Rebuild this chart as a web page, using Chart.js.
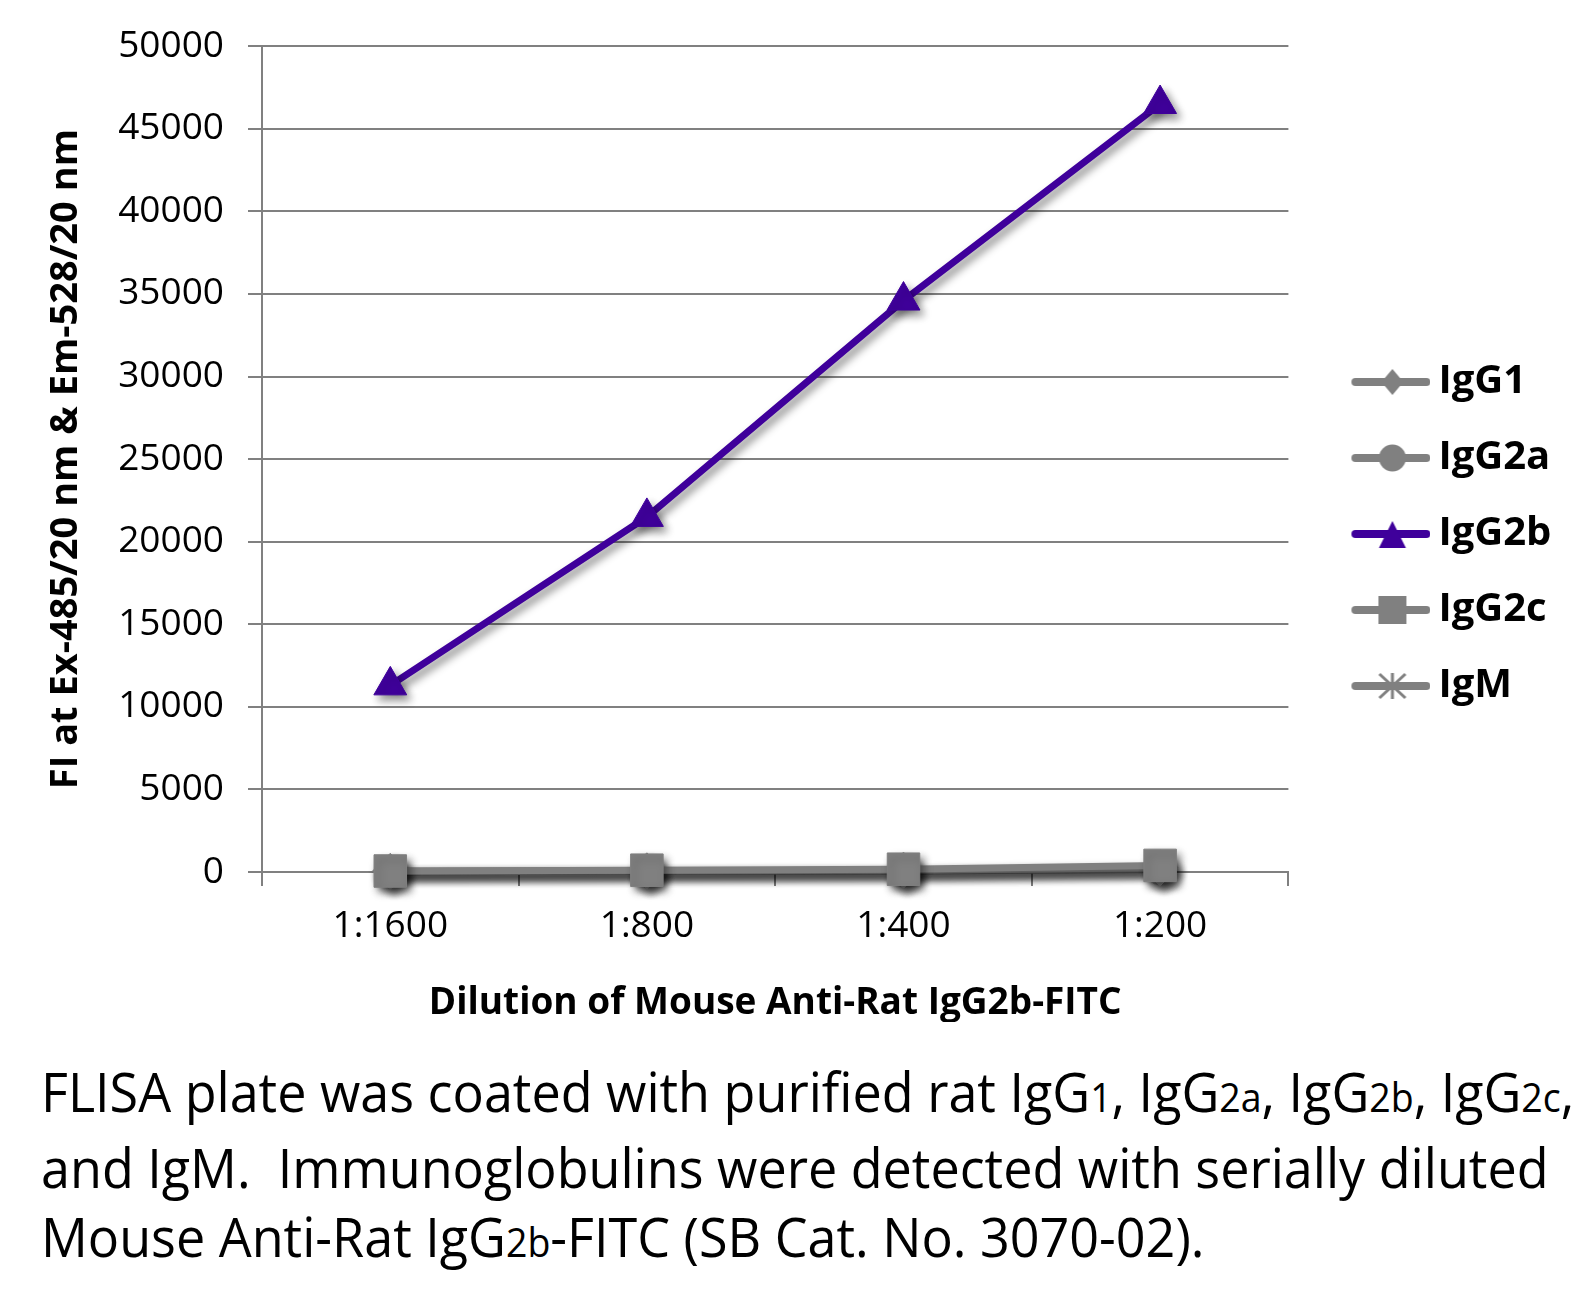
<!DOCTYPE html>
<html>
<head>
<meta charset="utf-8">
<script src="https://cdn.jsdelivr.net/npm/chart.js@4.4.0/dist/chart.umd.min.js"></script>
<style>
  body { margin: 0; background: #fff; }
  #wrap { position: relative; width: 1596px; height: 1306px; }
  #chart { position: absolute; left: 0; top: 0; }
  #caption {
    position: absolute; left: 41px; top: 1056px;
    font-family: 'Open Sans', sans-serif; font-size: 55px; line-height: 69px;
    white-space: nowrap; color: #000;
    transform: scaleX(0.947); transform-origin: left top;
  }
  #caption small { font-size: 0.72em; }
</style>
</head>
<body>
<div id="wrap">
  <canvas id="chart" width="1596" height="1022"></canvas>
  <div id="caption">FLISA plate was coated with purified rat IgG<small>1</small>, IgG<small>2a</small>, IgG<small>2b</small>, IgG<small>2c</small>,<br>and IgM.&nbsp; Immunoglobulins were detected with serially diluted<br>Mouse Anti-Rat IgG<small>2b</small>-FITC (SB Cat. No. 3070-02).</div>
</div>
<script>
const categories = ['1:1600', '1:800', '1:400', '1:200'];
const igg1 = [40, 70, 110, 250];
const igg2a = [30, 60, 90, 200];
const igg2b = [11300, 21500, 34600, 46500];
const igg2c = [60, 110, 170, 400];
const igm = [20, 40, 60, 150];
const yMin = 0, yMax = 50000, yStep = 5000;

const GRAY = '#808080';
const PURPLE = '#3f009b';
const FONT = "'Open Sans', sans-serif";

// legend icon: line with the marker on it
function legendIcon(color, marker) {
  const c = document.createElement('canvas');
  c.width = 118; c.height = 40;
  const g = c.getContext('2d');
  const cx = 80, cy = 20;
  g.strokeStyle = color; g.fillStyle = color;
  g.lineWidth = 8; g.lineCap = 'round';
  g.beginPath(); g.moveTo(43, cy); g.lineTo(114, cy); g.stroke();
  g.beginPath();
  if (marker === 'diamond') {
    g.moveTo(cx, cy - 13); g.lineTo(cx + 11, cy); g.lineTo(cx, cy + 13); g.lineTo(cx - 11, cy);
    g.closePath(); g.fill();
  } else if (marker === 'circle') {
    g.arc(cx, cy, 13.5, 0, Math.PI * 2); g.fill();
  } else if (marker === 'triangle') {
    g.moveTo(cx, cy - 13); g.lineTo(cx + 13.5, cy + 14); g.lineTo(cx - 13.5, cy + 14);
    g.closePath(); g.fill();
  } else if (marker === 'square') {
    g.rect(cx - 14, cy - 14, 28, 28); g.fill();
  } else if (marker === 'star') {
    g.lineWidth = 3; g.lineCap = 'butt';
    g.moveTo(cx, cy - 13); g.lineTo(cx, cy + 13);
    g.moveTo(cx - 13, cy - 12); g.lineTo(cx + 13, cy + 12);
    g.moveTo(cx + 13, cy - 12); g.lineTo(cx - 13, cy + 12);
    g.stroke();
  }
  return c;
}

const icons = [
  legendIcon(GRAY, 'diamond'),
  legendIcon(GRAY, 'circle'),
  legendIcon(PURPLE, 'triangle'),
  legendIcon(GRAY, 'square'),
  legendIcon(GRAY, 'star'),
];

// soft drop shadow under the series, like the original
const shadowPlugin = {
  id: 'shadow',
  beforeDatasetDraw(chart) {
    const ctx = chart.ctx;
    ctx.save();
    ctx.shadowColor = 'rgba(0,0,0,0.45)';
    ctx.shadowBlur = 8;
    ctx.shadowOffsetX = 4;
    ctx.shadowOffsetY = 5;
  },
  afterDatasetDraw(chart) {
    chart.ctx.restore();
  },
};

function series(label, data, color, style, radius, order) {
  return {
    label, data, order,
    borderColor: color, backgroundColor: color,
    borderWidth: 7, fill: false, tension: 0, clip: false,
    pointStyle: style, pointRadius: radius, pointHoverRadius: radius,
    pointBackgroundColor: color, pointBorderColor: color,
    pointBorderWidth: style === 'star' ? 3 : 1,
  };
}

const ctx = document.getElementById('chart').getContext('2d');
new Chart(ctx, {
  type: 'line',
  data: {
    labels: categories,
    datasets: [
      series('IgG1', igg1, GRAY, 'rectRot', 18, 2),
      series('IgG2a', igg2a, GRAY, 'circle', 16, 3),
      series('IgG2b', igg2b, PURPLE, 'triangle', 19, 1),
      series('IgG2c', igg2c, GRAY, 'rect', 23, 0),
      series('IgM', igm, GRAY, 'star', 15, 4),
    ],
  },
  plugins: [shadowPlugin],
  options: {
    responsive: false,
    animation: false,
    devicePixelRatio: 1,
    layout: { padding: { left: 0, top: 46, right: 34.6, bottom: 0 } },
    plugins: {
      tooltip: { enabled: false },
      legend: {
        position: 'right',
        labels: {
          usePointStyle: true,
          pointStyleWidth: 94,
          padding: 36,
          color: '#000',
          font: { family: FONT, size: 40, weight: 'bold' },
          generateLabels(chart) {
            return chart.data.datasets.map((ds, i) => ({
              text: ds.label,
              pointStyle: icons[i],
              datasetIndex: i,
              hidden: false,
              lineWidth: 0,
              fillStyle: 'transparent',
              strokeStyle: 'transparent',
            }));
          },
        },
      },
    },
    scales: {
      x: {
        offset: true,
        grid: { offset: true, drawOnChartArea: false, drawTicks: true, tickLength: 14, color: GRAY, lineWidth: 2 },
        border: { color: GRAY, width: 2 },
        ticks: { color: '#000', padding: 18, font: { family: FONT, size: 37 } },
        title: {
          display: true,
          text: 'Dilution of Mouse Anti-Rat IgG2b-FITC',
          color: '#000',
          font: { family: FONT, size: 37, weight: 'bold', lineHeight: 1 },
          padding: { top: 18.6, bottom: 0 },
        },
      },
      y: {
        min: yMin, max: yMax,
        grid: { color: GRAY, lineWidth: 2, tickLength: 14 },
        border: { color: GRAY, width: 2 },
        ticks: {
          stepSize: yStep, color: '#000', padding: 24,
          font: { family: FONT, size: 37 },
          callback: (v) => String(v),
        },
        title: {
          display: true,
          text: 'FI at Ex-485/20 nm & Em-528/20 nm',
          color: '#000',
          font: { family: FONT, size: 38, weight: 'bold' },
          padding: { top: 43, bottom: 5.6 },
        },
      },
    },
  },
});
</script>
</body>
</html>
